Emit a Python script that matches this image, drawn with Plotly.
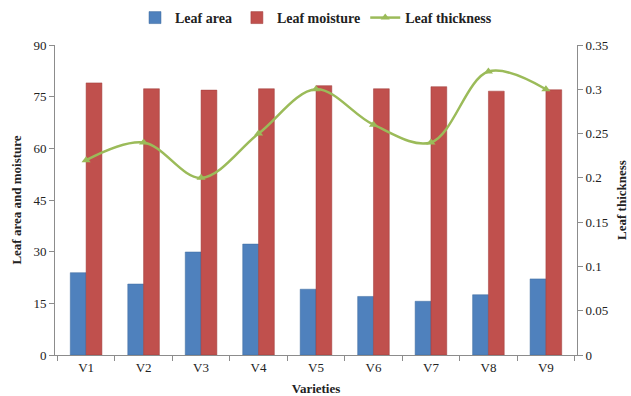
import plotly.graph_objects as go

categories = ["V1", "V2", "V3", "V4", "V5", "V6", "V7", "V8", "V9"]
leaf_area = [23.9, 20.6, 29.9, 32.2, 19.1, 17.0, 15.6, 17.5, 22.1]
leaf_moisture = [79.0, 77.3, 76.9, 77.3, 78.2, 77.3, 77.9, 76.6, 77.0]
leaf_thickness = [0.22, 0.24, 0.20, 0.25, 0.30, 0.26, 0.24, 0.32, 0.30]

font_family = "Liberation Serif, Times New Roman, serif"

fig = go.Figure()
fig.add_trace(go.Bar(x=categories, y=leaf_area, name="<b>Leaf area</b>",
                     marker=dict(color="#4F81BD", line=dict(color="#3C6A9E", width=0.5))))
fig.add_trace(go.Bar(x=categories, y=leaf_moisture, name="<b>Leaf moisture</b>",
                     marker=dict(color="#C0504D", line=dict(color="#9E3B38", width=0.5))))
fig.add_trace(go.Scatter(x=categories, y=leaf_thickness, name="<b>Leaf thickness</b>",
                         yaxis="y2", mode="lines+markers",
                         line=dict(color="#9BBB59", width=2.5, shape="spline", smoothing=1.0),
                         marker=dict(symbol="triangle-up", size=8, color="#9BBB59")))

axis_common = dict(showline=True, linecolor="#8C8C8C", linewidth=1, ticks="outside",
                   tickcolor="#8C8C8C", ticklen=5, showgrid=False, zeroline=False,
                   tickfont=dict(family=font_family, size=13, color="#222"))

fig.update_layout(
    width=631, height=396,
    margin=dict(l=55, r=54, t=45, b=41, autoexpand=False),
    plot_bgcolor="white", paper_bgcolor="white",
    font=dict(family=font_family, color="#222"),
    barmode="group", bargap=0.45, bargroupgap=0,
    legend=dict(orientation="h", x=0.5, xanchor="center", y=0.995, yanchor="top",
                yref="container", font=dict(family=font_family, size=14, color="#222"),
                itemwidth=30, traceorder="normal"),
    xaxis=dict(axis_common, tickson="boundaries",
               title=dict(text="<b>Varieties</b>", font=dict(family=font_family, size=13), standoff=10)),
    yaxis=dict(axis_common, range=[0, 90], dtick=15,
               title=dict(text="<b>Leaf area and moisture</b>", font=dict(family=font_family, size=13), standoff=8)),
    yaxis2=dict(axis_common, range=[0, 0.35], dtick=0.05, overlaying="y", side="right",
                title=dict(text="<b>Leaf thickness</b>", font=dict(family=font_family, size=13), standoff=9)),
)

fig.write_html("out.html", config={"displayModeBar": False},
               post_script="document.body.style.margin='0';document.body.style.overflow='hidden';")
